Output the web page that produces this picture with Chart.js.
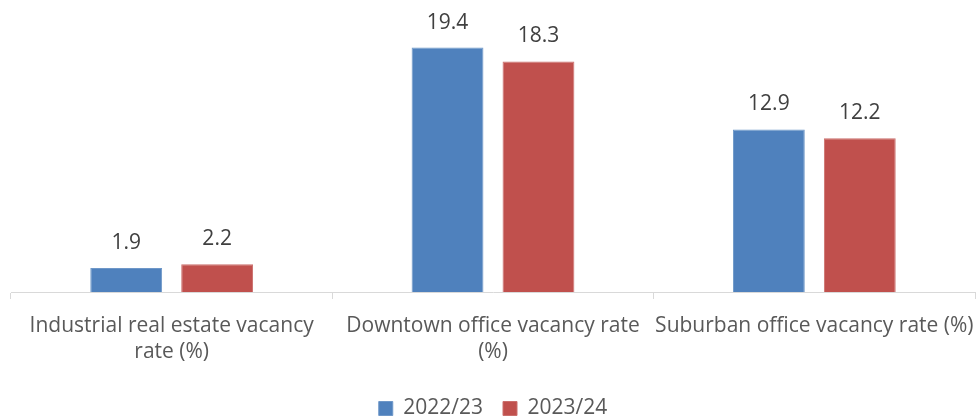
<!DOCTYPE html>
<html>
<head>
<meta charset="utf-8">
<script src="https://cdn.jsdelivr.net/npm/chart.js@4.4.1/dist/chart.umd.min.js"></script>
<style>
  html, body { margin: 0; padding: 0; background: #fff; }
  #wrap { width: 977px; height: 416px; position: relative; }
</style>
</head>
<body>
<div id="wrap"><canvas id="chart"></canvas></div>
<script>
// values
const categories = [
    ["Industrial real estate vacancy", "rate (%)"],
    ["Downtown office vacancy rate", "(%)"],
    "Suburban office vacancy rate (%)"
];
const seriesNames = ["2022/23", "2023/24"];
const values2022 = [1.9, 19.4, 12.9];
const values2023 = [2.2, 18.3, 12.2];

const FONT = "'Open Sans', 'Liberation Sans', sans-serif";

// Draw the value above each bar
const barLabels = {
    id: "barLabels",
    afterDatasetsDraw(chart) {
        const ctx = chart.ctx;
        ctx.save();
        ctx.font = "21px " + FONT;
        ctx.fillStyle = "#404040";
        ctx.textAlign = "center";
        ctx.textBaseline = "middle";
        chart.data.datasets.forEach((ds, i) => {
            chart.getDatasetMeta(i).data.forEach((bar, j) => {
                ctx.fillText(ds.data[j].toFixed(1), bar.x, bar.y - 25);
            });
        });
        ctx.restore();
    }
};

new Chart(document.getElementById("chart"), {
    type: "bar",
    data: {
        labels: categories,
        datasets: [
            {
                label: seriesNames[0],
                data: values2022,
                backgroundColor: "#4F81BD",
                borderColor: "#6E97C8",
                borderWidth: 1,
            },
            {
                label: seriesNames[1],
                data: values2023,
                backgroundColor: "#C0504D",
                borderColor: "#CB6F6C",
                borderWidth: 1,
            }
        ]
    },
    options: {
        responsive: true,
        maintainAspectRatio: false,
        animation: false,
        categoryPercentage: 0.566,
        barPercentage: 0.79,
        layout: { padding: { top: 40, left: 11, right: 2, bottom: -13 } },
        plugins: {
            tooltip: { enabled: false },
            legend: {
                position: "bottom",
                labels: {
                    boxWidth: 14,
                    boxHeight: 14,
                    padding: 20,
                    color: "#595959",
                    font: { family: FONT, size: 21 }
                }
            }
        },
        scales: {
            x: {
                afterFit(scale) {
                    scale.height = 86;
                    scale.paddingLeft = 0;
                    scale.paddingRight = 0;
                },
                border: { color: "#D9D9D9", width: 1 },
                grid: {
                    offset: true,
                    drawOnChartArea: false,
                    tickLength: 7,
                    color: "#D9D9D9"
                },
                ticks: {
                    padding: 14,
                    maxRotation: 0,
                    autoSkip: false,
                    color: "#595959",
                    font: { family: FONT, size: 21, lineHeight: 1.24 }
                }
            },
            y: {
                display: false,
                min: 0,
                max: 20
            }
        }
    },
    plugins: [barLabels]
});
</script>
</body>
</html>
